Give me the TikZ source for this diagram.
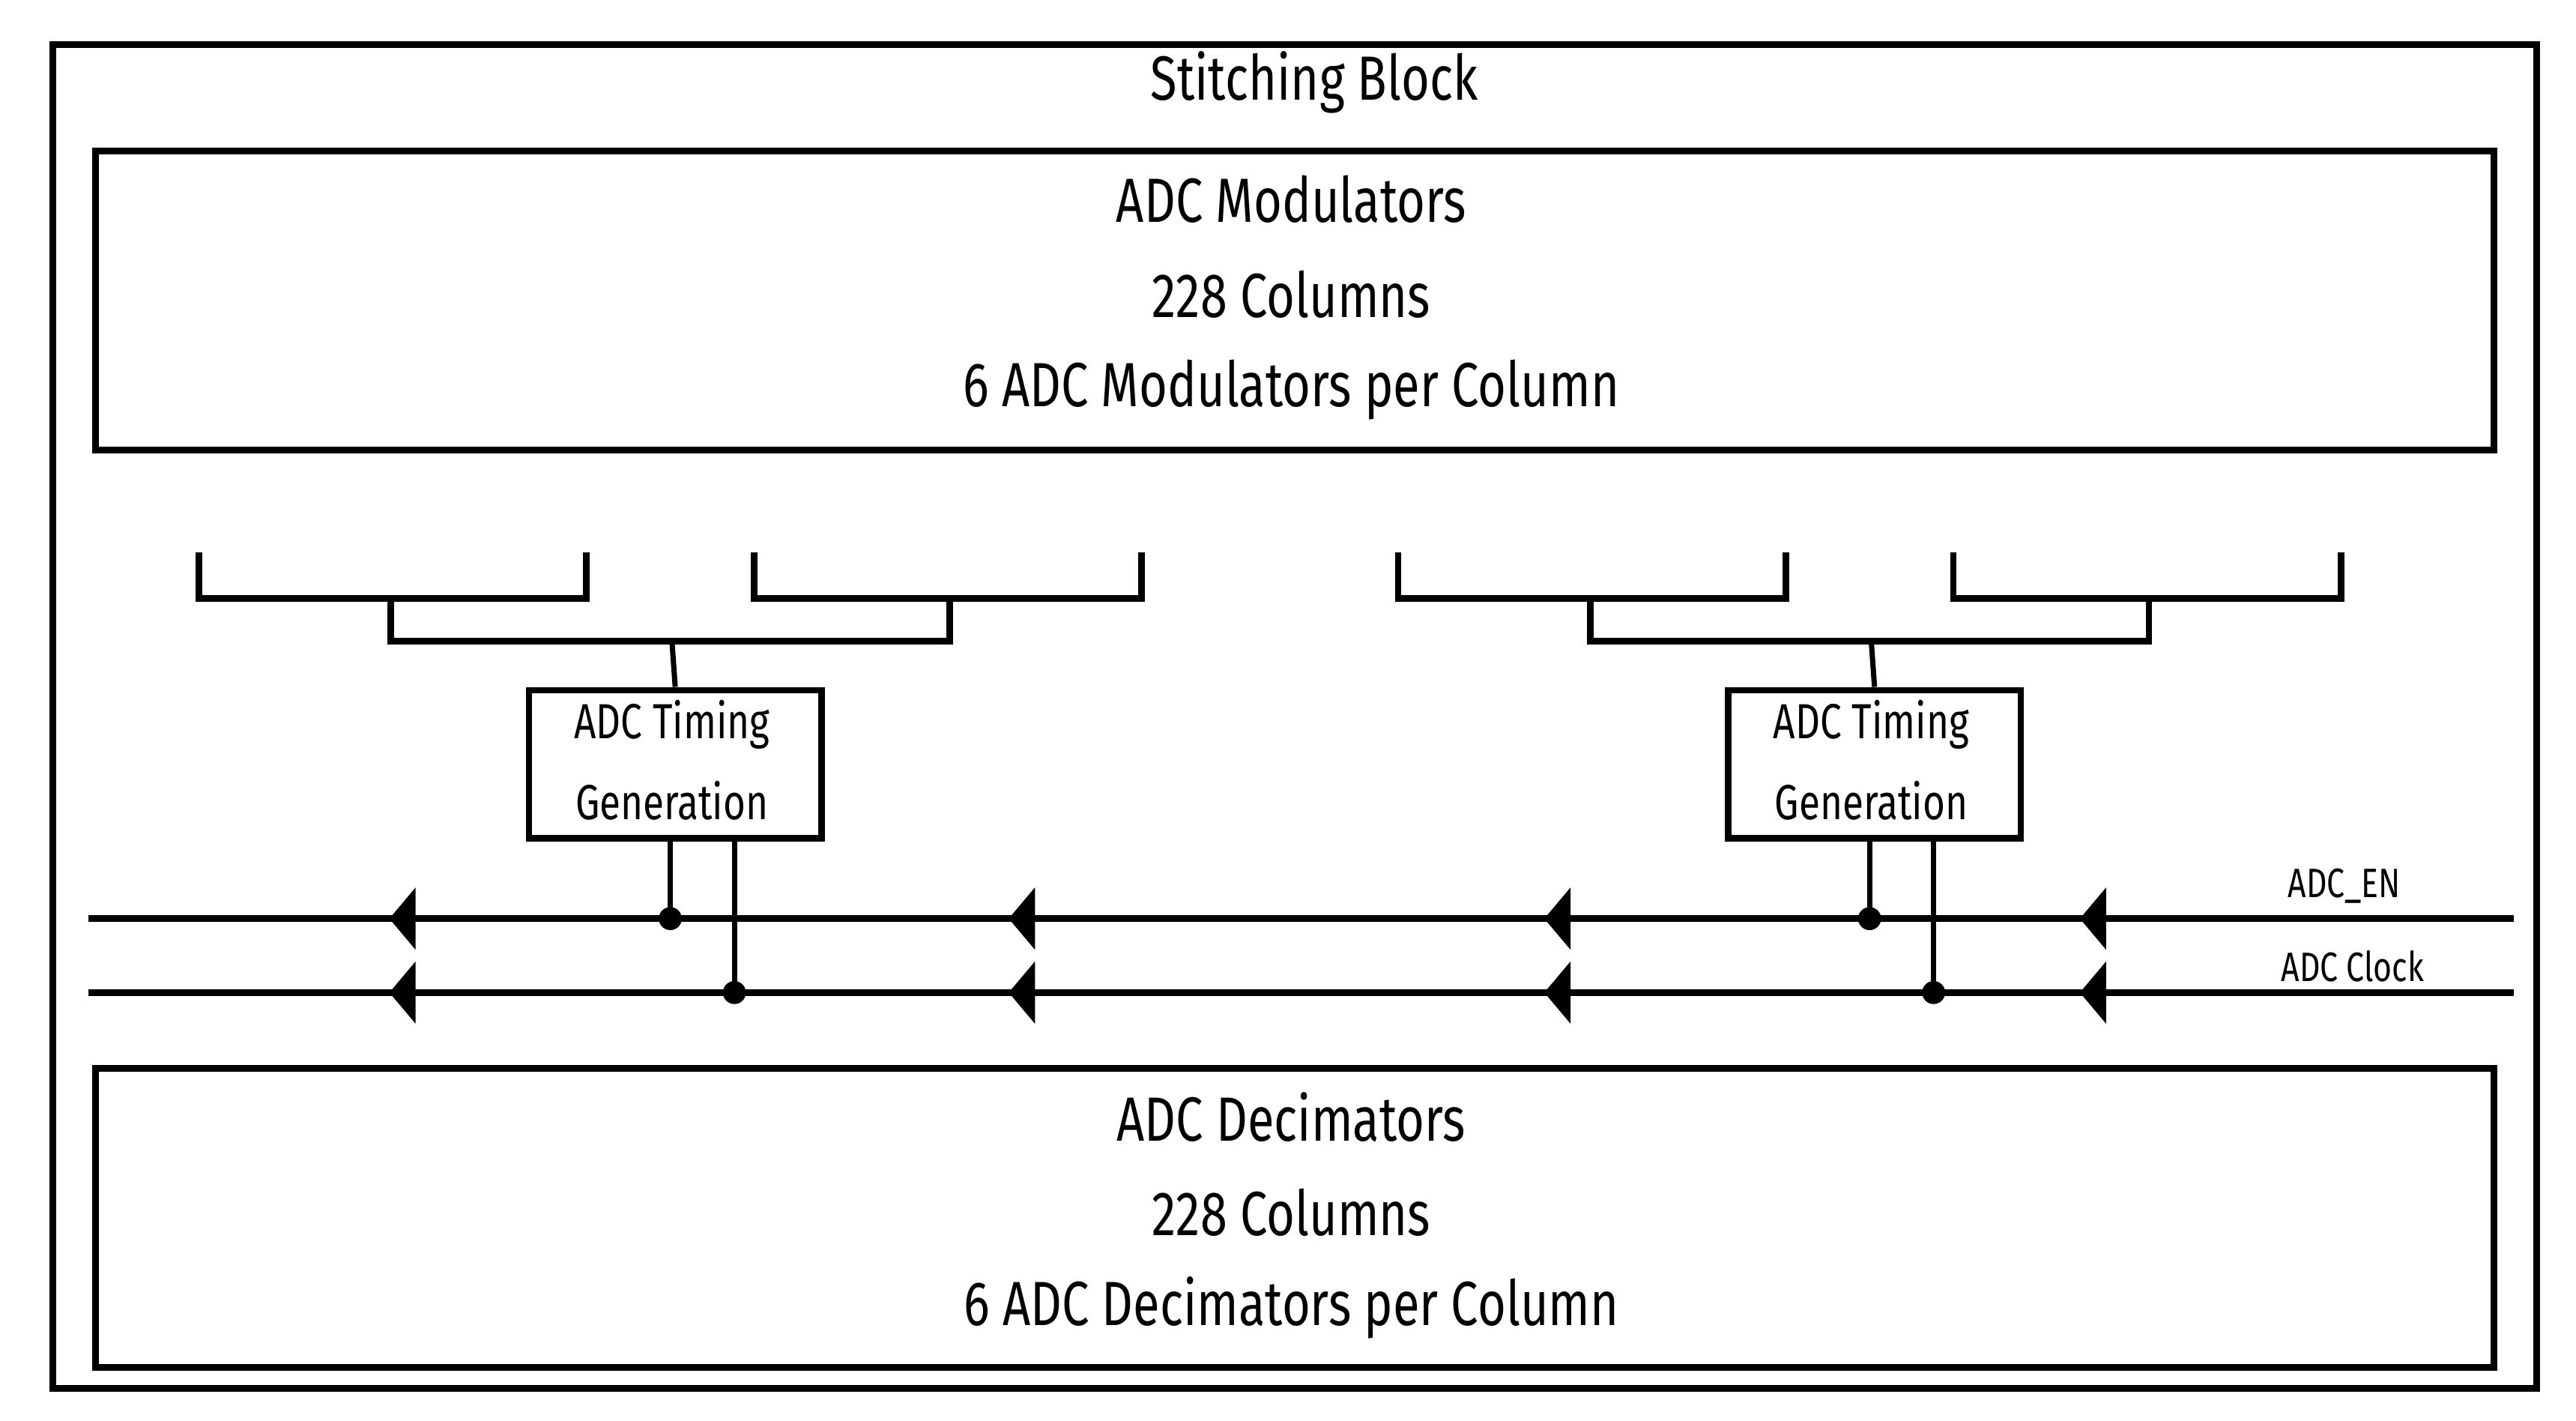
\documentclass[tikz,border=0pt]{standalone}
\usepackage{fontspec}
\setmainfont{Fira Sans}[FakeStretch=0.78]
\begin{document}
\begin{tikzpicture}[x=1pt,y=-1pt,
  box/.style={draw,line width=4pt,rectangle,inner sep=0pt,anchor=north west},
  wire/.style={line width=4pt},
  thin/.style={line width=3.2pt},
  big/.style={font=\fontsize{38}{46}\selectfont},
  tfont/.style={font=\fontsize{30}{46}\selectfont,align=center},
  lab/.style={font=\fontsize{25}{30}\selectfont},
  tip/.pic={\fill (0,0) -- (16,-19) -- (16,19) -- cycle;}]
\useasboundingbox (0,0) rectangle (1568,864.7);
\node[box,minimum width=1512pt,minimum height=818pt] (outer) at (30,25) {};
\node[big] (title) at (800,50) {Stitching Block};
\node[box,minimum width=1460pt,minimum height=182pt] (mod) at (56,90) {};
\node[big] at (786,121) {ADC Modulators};
\node[big] at (786,179) {228 Columns};
\node[big] at (786,237) {6 ADC Modulators per Column};
\node[box,minimum width=1460pt,minimum height=182pt] (dec) at (56,648) {};
\node[big] at (786,680) {ADC Decimators};
\node[big] at (786,738) {228 Columns};
\node[big] at (786,796) {6 ADC Decimators per Column};
% buses
\coordinate (enL) at (54,559); \coordinate (enR) at (1530,559);
\coordinate (ckL) at (54,604); \coordinate (ckR) at (1530,604);
\draw[wire] (enL) -- (enR);
\draw[wire] (ckL) -- (ckR);
\foreach \x in {237,614,940,1266}{
  \pic at (\x,559) {tip};
  \pic at (\x,604) {tip};
}
\node[lab] (enlab) at (1427,539) {ADC\_EN};
\node[lab] (cklab) at (1432,588) {ADC Clock};
% groups
\foreach \o/\n in {0/A,730/B}{
  \begin{scope}[xshift=\o pt]
  \draw[wire] (121,336) -- (121,364) -- (357,364) -- (357,336);
  \draw[wire] (459,336) -- (459,364) -- (695,364) -- (695,336);
  \draw[wire] (238,364) -- (238,390) -- (578,390) -- (578,364);
  \node[box,minimum width=178pt,minimum height=90pt] (tg\n) at (320,418) {};
  \node[tfont] at (409,441) {ADC Timing};
  \node[tfont] at (409,487) {Generation};
  \draw[thin] (409,390) -- (tg\n.north);
  \coordinate (e\n) at (408,559);
  \coordinate (c\n) at (447,604);
  \draw[thin] (408,508) -- (e\n);
  \draw[thin] (447,508) -- (c\n);
  \fill (e\n) circle (7);
  \fill (c\n) circle (7);
  \end{scope}
}
\end{tikzpicture}
\end{document}
